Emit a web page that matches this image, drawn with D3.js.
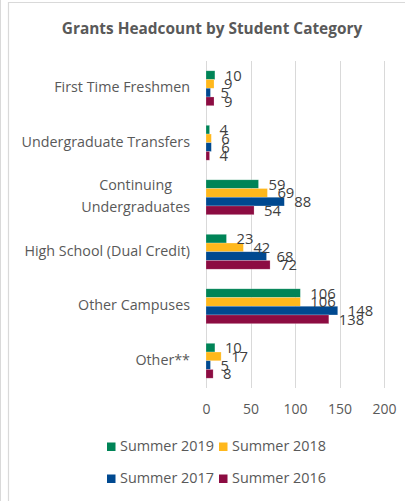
<!DOCTYPE html>
<html>
<head>
<meta charset="utf-8">
<script src="https://cdn.jsdelivr.net/npm/d3@7"></script>
<style>
  html, body { margin: 0; padding: 0; background: #fff; }
  svg { display: block; }
  text { font-family: "Open Sans", sans-serif; }
</style>
</head>
<body>
<svg id="chart" width="405" height="501"></svg>
<script>
const categories = ["First Time Freshmen", "Undergraduate Transfers", "Continuing Undergraduates", "High School (Dual Credit)", "Other Campuses", "Other**"];
const categoryLines = [["First Time Freshmen"], ["Undergraduate Transfers"], ["Continuing", "Undergraduates"], ["High School (Dual Credit)"], ["Other Campuses"], ["Other**"]];
const seriesNames = ["Summer 2019", "Summer 2018", "Summer 2017", "Summer 2016"];
const seriesColors = ["#008457", "#FFB81C", "#004990", "#8C0C42"];
const summer2019 = [10, 4, 59, 23, 106, 10];
const summer2018 = [9, 6, 69, 42, 106, 17];
const summer2017 = [5, 6, 88, 68, 148, 5];
const summer2016 = [9, 4, 54, 72, 138, 8];
const seriesValues = [summer2019, summer2018, summer2017, summer2016];
const xTicks = [0, 50, 100, 150, 200];
const titleText = "Grants Headcount by Student Category";

const svg = d3.select("#chart");
const W = 405, H = 501;

// frame
svg.append("line").attr("x1", 0.5).attr("x2", 0.5).attr("y1", 0).attr("y2", H)
  .attr("stroke", "#d9d9d9").attr("stroke-width", 1);
svg.append("path").attr("d", `M8.5,${H} V2.5 H${W}`)
  .attr("fill", "none").attr("stroke", "#d9d9d9").attr("stroke-width", 1.2);

// title
svg.append("text").attr("x", 212).attr("y", 30)
  .attr("text-anchor", "middle").attr("dominant-baseline", "middle")
  .attr("font-size", 15.4).attr("font-weight", "bold").attr("fill", "#595959")
  .text(titleText);

const x = d3.scaleLinear().domain([0, 200]).range([206, 384]);
const y0 = d3.scaleBand().domain(categories).range([61, 388]).paddingInner(0.36).paddingOuter(0.18);
const y1 = d3.scaleBand().domain(seriesNames).range([0, y0.bandwidth()]);

// gridlines
svg.append("g").selectAll("line").data(xTicks).join("line")
  .attr("x1", d => Math.round(x(d)) + 0.5).attr("x2", d => Math.round(x(d)) + 0.5)
  .attr("y1", 61).attr("y2", 388)
  .attr("stroke", "#d9d9d9").attr("stroke-width", 1);

// x axis tick labels
const xAxis = d3.axisBottom(x).tickValues(xTicks).tickSize(0).tickPadding(0);
const gx = svg.append("g").attr("transform", "translate(0,404)").call(xAxis);
gx.select(".domain").remove();
gx.selectAll("text").attr("font-size", 14).attr("fill", "#595959")
  .attr("font-family", "Open Sans, sans-serif").attr("dy", "0.71em").attr("y", 0);

// category labels
const labelRight = 190;
const catG = svg.append("g").selectAll("text").data(categories).join("text")
  .attr("font-size", 14.3).attr("fill", "#595959");
catG.each(function(d, i) {
  const lines = categoryLines[i];
  const cy = y0(d) + y0.bandwidth() / 2;
  const lh = 22;
  const start = cy - (lines.length - 1) * lh / 2;
  const t = d3.select(this);
  const spans = t.selectAll("tspan").data(lines).join("tspan")
    .attr("y", (l, j) => start + j * lh)
    .attr("dominant-baseline", "middle")
    .text(l => l);
  if (lines.length > 1) {
    let maxW = 0;
    spans.each(function() { maxW = Math.max(maxW, this.getComputedTextLength()); });
    spans.attr("text-anchor", "middle").attr("x", labelRight - maxW / 2);
  } else {
    spans.attr("text-anchor", "end").attr("x", labelRight);
  }
});

// bars
const groups = svg.append("g").selectAll("g").data(categories).join("g")
  .attr("transform", d => `translate(0,${y0(d)})`);
groups.each(function(cat, ci) {
  const g = d3.select(this);
  const rows = seriesNames.map((s, si) => ({ s, si, v: seriesValues[si][ci] }));
  g.selectAll("rect").data(rows).join("rect")
    .attr("x", x(0))
    .attr("y", d => y1(d.s))
    .attr("width", d => x(d.v) - x(0))
    .attr("height", y1.bandwidth())
    .attr("fill", d => seriesColors[d.si])
    .attr("stroke", "#ffffff").attr("stroke-opacity", 0.35).attr("stroke-width", 0.6);
  g.selectAll("text").data(rows).join("text")
    .attr("x", d => x(d.v) + 10)
    .attr("y", d => y1(d.s) + y1.bandwidth() / 2 + 1.5)
    .attr("dominant-baseline", "middle")
    .attr("font-size", 14.8).attr("fill", "#404040")
    .text(d => d.v);
});

// legend
const legendPos = [[107, 447], [219, 447], [107, 479], [219, 479]];
const lg = svg.append("g").selectAll("g").data(seriesNames).join("g")
  .attr("transform", (d, i) => `translate(${legendPos[i][0]},${legendPos[i][1]})`);
lg.append("rect").attr("x", 0).attr("y", -4.5).attr("width", 8.5).attr("height", 8.5)
  .attr("fill", (d, i) => seriesColors[i]);
lg.append("text").attr("x", 13).attr("y", 0).attr("dominant-baseline", "middle")
  .attr("font-size", 14.4).attr("fill", "#595959").text(d => d);
</script>
</body>
</html>
